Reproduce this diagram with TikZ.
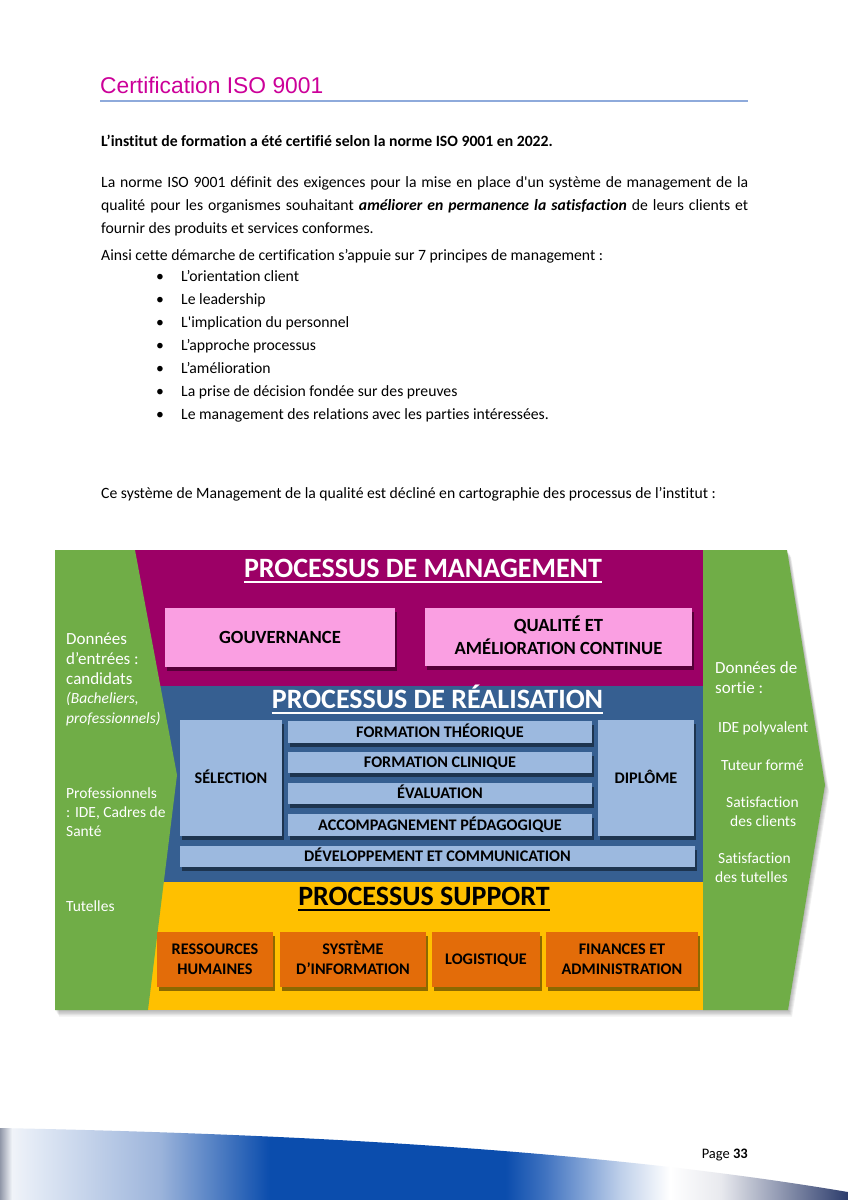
\documentclass[tikz,border=0pt]{standalone}
\usepackage{fontspec}
\setmainfont{Carlito}[Ligatures={TeXOff,CommonOff}]
\newfontfamily\arialf{Liberation Sans}
\usetikzlibrary{shadows}
\definecolor{titlemag}{HTML}{CC0099}
\definecolor{rulec}{HTML}{8EAADB}
\definecolor{grn}{HTML}{70AD47}
\definecolor{mag}{HTML}{9C0066}
\definecolor{bband}{HTML}{365F91}
\definecolor{lblue}{HTML}{9CB9DF}
\definecolor{pinkb}{HTML}{FA9FE2}
\definecolor{yel}{HTML}{FFC000}
\definecolor{orng}{HTML}{E36C09}
\definecolor{fgrey}{HTML}{9097A8}
\definecolor{fw1}{HTML}{F0F3F8}
\definecolor{fw2}{HTML}{E4EBF6}
\definecolor{fl1}{HTML}{9CB4DB}
\definecolor{fdeep}{HTML}{0B4DAD}
\definecolor{fmid}{HTML}{3F72C0}
\definecolor{fl2}{HTML}{BFD0EA}
\definecolor{fg2}{HTML}{E8E9EE}
\definecolor{fnavy}{HTML}{2C3C6C}
\pgfdeclarehorizontalshading{footband}{100bp}{color(0bp)=(fgrey); color(25bp)=(fgrey); color(25.7bp)=(fw1); color(26.8bp)=(fw2); color(34.4bp)=(fl1); color(40.9bp)=(fdeep); color(54.8bp)=(fdeep); color(57.1bp)=(fmid); color(61.6bp)=(fl2); color(64.5bp)=(white); color(67.5bp)=(fg2); color(75bp)=(fnavy); color(100bp)=(fnavy)}
\begin{document}
\begin{tikzpicture}[x=1pt,y=-1pt,
  body/.style={anchor=base west, inner sep=0, font=\fontsize{15.7}{23}\selectfont},
  bul/.style={anchor=base, inner sep=0, font=\fontsize{15.7}{23}\selectfont},
  sh/.style={drop shadow={shadow xshift=2pt, shadow yshift=-4pt, opacity=.45, fill=black}},
  mgbox/.style={sh, fill=pinkb, inner sep=0, outer sep=0, align=center, text height=11.8pt, text depth=0pt, font=\bfseries\fontsize{18.6}{23}\selectfont},
  blbox/.style={sh, fill=lblue, inner sep=0, outer sep=0, align=center, text height=10.2pt, text depth=0pt, font=\bfseries\fontsize{16.2}{20}\selectfont},
  orbox/.style={sh, fill=orng, inner sep=0, outer sep=0, align=center, text height=10.2pt, text depth=0pt, font=\bfseries\fontsize{16.2}{20}\selectfont},
  ptitle/.style={anchor=base, inner sep=0, font=\bfseries\fontsize{28}{32}\selectfont},
  gbig/.style={anchor=base west, inner sep=0, text=white, font=\fontsize{17}{20}\selectfont},
  gsm/.style={anchor=base west, inner sep=0, text=white, font=\fontsize{15.5}{19}\selectfont}
]
\useasboundingbox[fill=white] (0,0) rectangle (848,1200);

% ---- heading
\node[anchor=base west, inner sep=0, text=titlemag, font=\arialf\fontsize{22.8}{27}\selectfont] (title) at (100,93) {Certification ISO 9001};
\draw[rulec, line width=2] (100,101) -- (748,101);

% ---- body text
\node[body] (t1) at (101,146) {\textbf{L’institut de formation a été certifié selon la norme ISO 9001 en 2022.}};
\node[body] (p1) at (101,187) {\makebox[647pt][s]{La norme ISO 9001 définit des exigences pour la mise en place d'un système de management de la}};
\node[body] (p2) at (101,210) {\makebox[647pt][s]{qualité pour les organismes souhaitant \textbf{\textit{améliorer en permanence la satisfaction}} de leurs clients et}};
\node[body] (p3) at (101,233) {fournir des produits et services conformes.};
\node[body] (t4) at (101,260) {Ainsi cette démarche de certification s’appuie sur 7 principes de management :};
\foreach \i/\t in {0/{L’orientation client},1/{Le leadership},2/{L'implication du personnel},3/{L’approche processus},4/{L’amélioration},5/{La prise de décision fondée sur des preuves},6/{Le management des relations avec les parties intéressées.}}{
  \node[bul] (b\i) at (160,281+23*\i) {•};
  \node[body] (bt\i) at (181,281+23*\i) {\t};
}
\node[body] (t5) at (101,498) {Ce système de Management de la qualité est décliné en cartographie des processus de l’institut :};

% ---- diagram shadow
\foreach \k in {1,...,5}{
  \fill[black, opacity=.06] (55+0.8*\k,550+1.3*\k) -- (787+0.8*\k,550+1.3*\k) -- (825+0.8*\k,785+1.3*\k) -- (788+0.8*\k,1010+1.3*\k) -- (55+0.8*\k,1010+1.3*\k) -- cycle;
}
% ---- bands
\fill[mag] (130,550) rectangle (703,686);
\fill[bband] (130,686) rectangle (703,882);
\fill[yel] (130,882) rectangle (703,1010);
% ---- green input / output chevrons
\fill[grn] (55,550) -- (135,550) -- (177,775) -- (148,1010) -- (55,1010) -- cycle;
\fill[grn] (703,550) -- (787,550) -- (825,785) -- (788,1010) -- (703,1010) -- cycle;

% ---- management
\node[ptitle, text=white] (pm) at (423,577) {PROCESSUS DE MANAGEMENT};
\draw[white, line width=1.6] ([yshift=-5pt]pm.base west) -- ([yshift=-5pt]pm.base east);
\node[mgbox, minimum width=230, minimum height=59] (gouv) at (280,637.5) {GOUVERNANCE};
\node[mgbox, minimum width=267, minimum height=58, text height=34.8pt] (qual) at (558.5,637) {QUALITÉ ET\\AMÉLIORATION CONTINUE};

% ---- realisation
\node[ptitle, text=white] (pr) at (437.5,708) {PROCESSUS DE RÉALISATION};
\draw[white, line width=1.6] ([yshift=-5pt]pr.base west) -- ([yshift=-5pt]pr.base east);
\node[blbox, minimum width=102, minimum height=116] (sel) at (231,778) {SÉLECTION};
\node[blbox, minimum width=96, minimum height=116] (dip) at (646,778) {DIPLÔME};
\node[blbox, minimum width=304, minimum height=22] (ft) at (440,732) {FORMATION THÉORIQUE};
\node[blbox, minimum width=304, minimum height=21] (fc) at (440,762.5) {FORMATION CLINIQUE};
\node[blbox, minimum width=304, minimum height=21] (ev) at (440,793.5) {ÉVALUATION};
\node[blbox, minimum width=304, minimum height=22] (ap) at (440,825) {ACCOMPAGNEMENT PÉDAGOGIQUE};
\node[blbox, minimum width=515, minimum height=21] (dev) at (437.5,856.5) {DÉVELOPPEMENT ET COMMUNICATION};

% ---- support
\node[ptitle, text=black] (ps) at (424,905) {PROCESSUS SUPPORT};
\draw[black, line width=1.6] ([yshift=-5pt]ps.base west) -- ([yshift=-5pt]ps.base east);
\node[orbox, minimum width=116, minimum height=55, text height=30.2pt] (rh) at (215,959.5) {RESSOURCES\\HUMAINES};
\node[orbox, minimum width=146, minimum height=55, text height=30.2pt] (si) at (353,959.5) {SYSTÈME\\D’INFORMATION};
\node[orbox, minimum width=108, minimum height=55] (log) at (486,959.5) {LOGISTIQUE};
\node[orbox, minimum width=152, minimum height=55, text height=30.2pt] (fin) at (622,959.5) {FINANCES ET\\ADMINISTRATION};

% ---- inputs
\node[gbig] (in1) at (66,644) {Données};
\node[gbig] (in2) at (66,664) {d’entrées :};
\node[gbig] (in3) at (66,684) {candidats};
\node[gsm] (in4) at (66,703) {\textit{(Bacheliers,}};
\node[gsm] (in5) at (66,723) {\textit{professionnels)}};
\node[gsm] (in6) at (66,798) {Professionnels};
\node[gsm] (in7) at (66,817) {: IDE, Cadres de};
\node[gsm] (in8) at (66,836) {Santé};
\node[gsm] (in9) at (66,911) {Tutelles};

% ---- outputs
\node[gbig] (out1) at (715,673) {Données de};
\node[gbig] (out2) at (715,693) {sortie :};
\node[gsm] (out3) at (718,732) {IDE polyvalent};
\node[gsm] (out4) at (721,770) {Tuteur formé};
\node[gsm] (out5) at (726,807) {Satisfaction};
\node[gsm] (out6) at (730,826) {des clients};
\node[gsm] (out7) at (718,863) {Satisfaction};
\node[gsm] (out8) at (715,882) {des tutelles};

% ---- footer
\shade[shading=footband] (0,1200) -- (0,1128) .. controls (300,1134) and (600,1150) .. (848,1192) -- (848,1200) -- cycle;
\node[anchor=base east, inner sep=0, font=\fontsize{14.5}{17}\selectfont] (pg) at (748,1158) {Page \textbf{33}};
\end{tikzpicture}
\end{document}
